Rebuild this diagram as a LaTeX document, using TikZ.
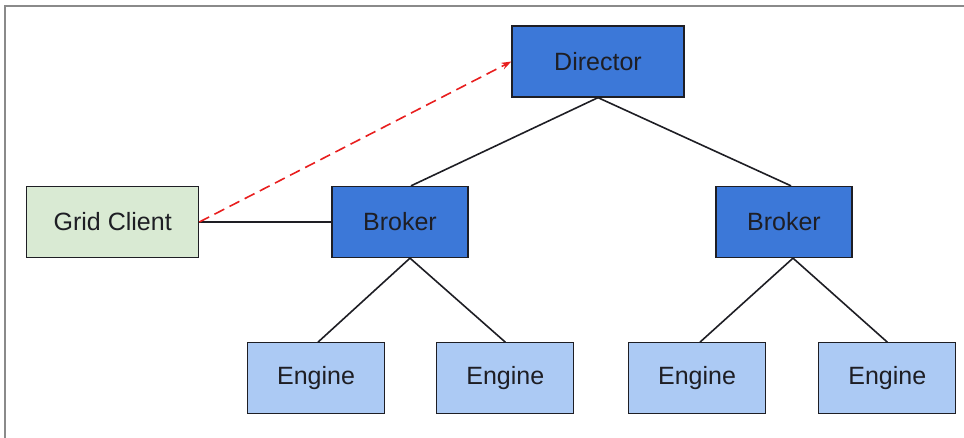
\documentclass[tikz,border=0pt]{standalone}
\usepackage{fontspec}
\setmainfont{Liberation Sans}
\usetikzlibrary{arrows.meta,positioning}
\definecolor{gdblue}{RGB}{60,120,216}
\definecolor{gdlightblue}{RGB}{172,202,244}
\definecolor{gdgreen}{RGB}{217,234,211}
\definecolor{gdline}{RGB}{30,30,36}
\definecolor{gdframe}{RGB}{138,138,138}
\definecolor{gdred}{RGB}{232,30,30}
\tikzset{
  gdbox/.style={draw=gdline, line width=1.3pt, fill=gdblue, align=center, minimum height=71pt, inner sep=0pt, text=gdline},
  gdengine/.style={draw=gdline, line width=1.3pt, fill=gdlightblue, minimum width=137pt, minimum height=71pt, inner sep=0pt, text=gdline},
  gdclient/.style={draw=gdline, line width=1.3pt, fill=gdgreen, minimum width=172pt, minimum height=71pt, inner sep=0pt, text=gdline},
  gdlink/.style={draw=gdline, line width=1.6pt},
  gdcall/.style={-{Stealth[length=10pt,width=7pt]}, draw=gdred, line width=1.6pt, dash pattern=on 11pt off 6pt}
}

\begin{document}
\begin{tikzpicture}[x=1pt, y=1pt, font=\fontsize{25}{30}\selectfont, node distance=84pt and 51pt]
  \useasboundingbox (0,0) rectangle (964,438);
  \draw[gdframe, line width=2pt] (5,0) -- (5,432) -- (964,432);
  \node[gdbox, minimum width=172pt] (dir) at (598,376.5) {Director};
  \node[gdbox, minimum width=136pt] (brk1) at (400,216) {Broker};
  \node[gdbox, minimum width=136pt] (brk2) at (784,216) {Broker};
  \node[gdclient, left=132pt of brk1] (client) {Grid Client};
  \node[gdengine, below=84pt of brk1, xshift=-84pt] (eng1) {Engine};
  \node[gdengine, right=51pt of eng1] (eng2) {Engine};
  \node[gdengine, below=84pt of brk2, xshift=-87pt] (eng3) {Engine};
  \node[gdengine, right=52pt of eng3] (eng4) {Engine};
  % tree links
  \draw[gdlink] (dir.south) -- ([xshift=11pt]brk1.north);
  \draw[gdlink] (dir.south) -- ([xshift=7pt]brk2.north);
  \draw[gdlink] ([xshift=10pt]brk1.south) -- ([xshift=2pt]eng1.north);
  \draw[gdlink] ([xshift=10pt]brk1.south) -- (eng2.north);
  \draw[gdlink] ([xshift=9pt]brk2.south) -- ([xshift=3pt]eng3.north);
  \draw[gdlink] ([xshift=9pt]brk2.south) -- (eng4.north);
  \draw[gdlink] (client.east) -- (brk1.west);
  % client request
  \draw[gdcall] (client.east) -- (dir.west);
\end{tikzpicture}
\end{document}
